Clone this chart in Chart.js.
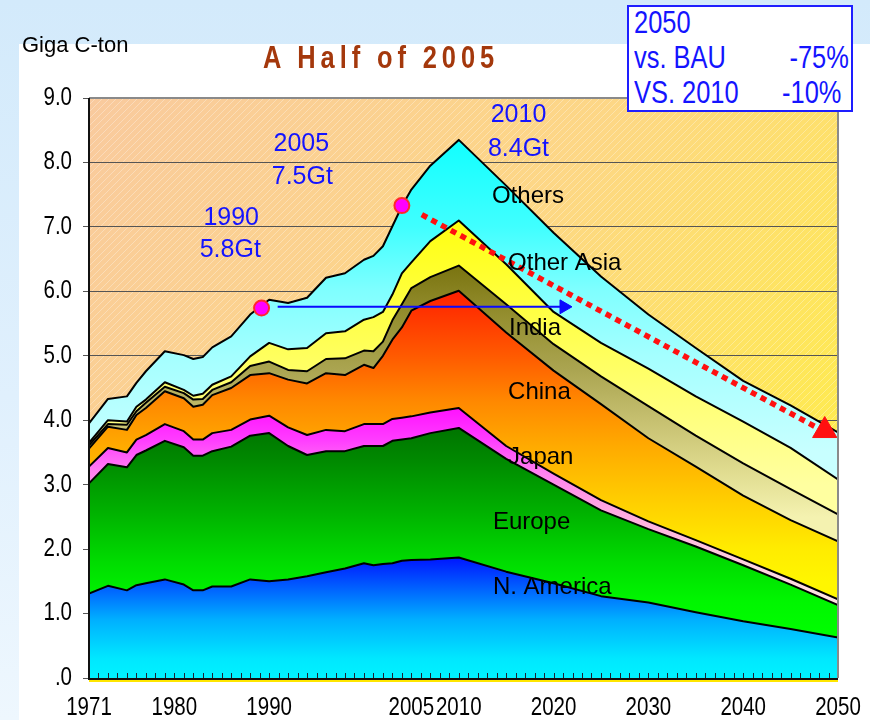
<!DOCTYPE html>
<html>
<head>
<meta charset="utf-8">
<script src="https://cdn.jsdelivr.net/npm/chart.js@4/dist/chart.umd.min.js"></script>
<style>
  body { margin:0; width:870px; height:720px; overflow:hidden; position:relative;
         background: linear-gradient(180deg, #d3eafb 0%, #e0f0fd 55%, #eef7fe 100%); }
  #panel { position:absolute; left:19px; top:44px; right:0; bottom:0; background:#fff; }
  #chart { position:absolute; left:0; top:0; }
  .sans { font-family: 'Liberation Sans', Arial, sans-serif; }
  .squeeze { display:inline-block; transform:scaleX(0.82); transform-origin:left center; white-space:nowrap; }
  #unit { position:absolute; left:22px; top:32px; font-size:22px; color:#000; }
  #title { position:absolute; left:263px; top:40px; font-size:31px; font-weight:bold; letter-spacing:6px; color:#a4380c; }
  #box { position:absolute; left:627px; top:5px; width:222px; height:103px; border:2px solid #1e1eff;
         background:#fff; color:#1414ff; font-size:31px; line-height:35px; overflow:hidden; }
  #box .rows { margin-top:-2px; margin-left:5px; width:262px; transform:scaleX(0.82); transform-origin:left top; }
  #box .row { display:flex; justify-content:space-between; }
</style>
</head>
<body>
<div id="panel"></div>
<canvas id="chart" width="870" height="720"></canvas>
<div id="unit" class="sans">Giga C-ton</div>
<div id="title" class="sans"><span class="squeeze">A Half of 2005</span></div>
<div id="box" class="sans">
  <div class="rows">
    <div class="row"><span>2050</span></div>
    <div class="row"><span>vs. BAU</span><span>-75%</span></div>
    <div class="row"><span>VS. 2010</span><span style="padding-right:9px">-10%</span></div>
  </div>
</div>
<script>
// years (historic wiggles, then projection)
const years = [1971,1973,1975,1976,1977,1979,1981,1982,1983,1984,1986,1988,1990,1992,1994,1996,1998,2000,2001,2002,2003,2004,2005,2007,2010,2015,2020,2025,2030,2035,2040,2045,2050];

// emissions by region, Giga C-ton (not cumulative)
const nAmerica  = [1.31,1.43,1.36,1.44,1.47,1.53,1.45,1.36,1.36,1.42,1.42,1.53,1.50,1.53,1.58,1.64,1.70,1.78,1.75,1.77,1.78,1.82,1.83,1.84,1.87,1.65,1.47,1.27,1.17,1.02,0.88,0.76,0.63];
const europe    = [1.71,1.89,1.91,2.02,2.06,2.15,2.13,2.09,2.09,2.10,2.17,2.23,2.30,2.07,1.88,1.88,1.82,1.82,1.85,1.83,1.90,1.88,1.89,1.96,2.01,1.75,1.53,1.33,1.14,1.02,0.87,0.69,0.50];
const japan     = [0.26,0.25,0.23,0.24,0.24,0.26,0.25,0.25,0.25,0.28,0.26,0.25,0.27,0.29,0.31,0.33,0.31,0.34,0.34,0.34,0.34,0.34,0.34,0.32,0.31,0.20,0.17,0.16,0.12,0.10,0.09,0.09,0.09];
const china     = [0.28,0.33,0.35,0.38,0.42,0.51,0.51,0.51,0.54,0.59,0.65,0.69,0.66,0.74,0.80,0.88,0.87,0.92,0.87,1.06,1.23,1.40,1.64,1.73,1.82,1.76,1.60,1.49,1.29,1.14,0.99,0.91,0.90];
const india     = [0.05,0.04,0.08,0.06,0.08,0.07,0.08,0.11,0.09,0.08,0.09,0.14,0.18,0.15,0.19,0.22,0.26,0.22,0.26,0.22,0.30,0.36,0.35,0.37,0.39,0.44,0.41,0.43,0.50,0.48,0.50,0.48,0.42];
const otherAsia = [0.04,0.06,0.05,0.07,0.05,0.07,0.05,0.06,0.08,0.08,0.09,0.15,0.29,0.32,0.36,0.40,0.42,0.48,0.53,0.46,0.40,0.48,0.40,0.56,0.70,0.62,0.50,0.52,0.58,0.61,0.65,0.64,0.54];
const others    = [0.30,0.33,0.39,0.37,0.44,0.48,0.54,0.57,0.57,0.58,0.62,0.65,0.67,0.72,0.78,0.86,0.90,0.93,0.95,1.02,1.06,1.04,1.13,1.17,1.25,1.22,1.23,1.03,0.84,0.75,0.63,0.66,0.73];

const xTickYears = [1971,1980,1990,2005,2010,2020,2030,2040,2050];

// markers: 1990 and 2005 totals, reduction path, "same as 1990" arrow
const dotYears  = [1989.2, 2004.0];
const dotValues = [5.74, 7.33];
const pathYears  = [2006.1, 2047.6];
const pathValues = [7.19, 3.90];
const arrowYears  = [1990.9, 2020.7];
const arrowValues = [5.76, 5.76];

// vertical gradient in value space
function vGrad(stops) {
  return (c) => {
    const chart = c.chart;
    if (!chart.chartArea) return stops[0][1];
    const y = chart.scales.y;
    const p0 = y.getPixelForValue(stops[0][0]);
    const p1 = y.getPixelForValue(stops[stops.length - 1][0]);
    const g = chart.ctx.createLinearGradient(0, p0, 0, p1);
    stops.forEach(([v, col]) => g.addColorStop((y.getPixelForValue(v) - p0) / (p1 - p0), col));
    return g;
  };
}

const series = [
  { label: 'N. America', data: nAmerica, bg: vGrad([[1.9,'#0010ff'],[1.5,'#0050ff'],[0.9,'#00b0ff'],[0.3,'#00e8ff'],[0,'#00f2ff']]) },
  { label: 'Europe', data: europe, bg: vGrad([[4.0,'#007000'],[3.4,'#008800'],[2.6,'#00b000'],[1.8,'#00dc00'],[1.2,'#00f600'],[0.6,'#00ff00']]) },
  { label: 'Japan', data: japan, bg: vGrad([[4.2,'#ff10ff'],[3.7,'#ff3cff'],[3.2,'#ff80f0'],[2.6,'#ffa8e0'],[1.8,'#ffd0e0'],[1.2,'#ffe4e4']]) },
  { label: 'China', data: china, bg: vGrad([[6.0,'#ff2000'],[5.0,'#ff5a00'],[4.3,'#ff8800'],[3.6,'#ffaa00'],[2.8,'#ffcc00'],[2.0,'#ffec00'],[1.5,'#fff600']]) },
  { label: 'India', data: india, bg: vGrad([[6.4,'#7a7410'],[5.6,'#958f30'],[4.8,'#aaa450'],[4.0,'#c6c070'],[3.2,'#e0dc90'],[2.5,'#f4f2b0']]) },
  { label: 'Other Asia', data: otherAsia, bg: vGrad([[7.1,'#ffff10'],[5.8,'#ffff40'],[4.5,'#ffff70'],[3.0,'#ffffa0']]) },
  { label: 'Others', data: others, bg: vGrad([[8.4,'#10ffff'],[7.0,'#40ffff'],[6.0,'#80ffff'],[5.0,'#a4ffff'],[3.5,'#c8ffff']]) }
];

const areaLabels = [
  { text: 'Others', x: 2013.5, y: 7.47 },
  { text: 'Other Asia', x: 2015.2, y: 6.44 },
  { text: 'India', x: 2015.3, y: 5.43 },
  { text: 'China', x: 2015.2, y: 4.43 },
  { text: 'Japan', x: 2015.2, y: 3.42 },
  { text: 'Europe', x: 2013.6, y: 2.41 },
  { text: 'N. America', x: 2013.6, y: 1.41 }
];
const noteLabels = [
  { text: '1990', x: 1986.0, y: 7.14 },
  { text: '5.8Gt', x: 1985.9, y: 6.64 },
  { text: '2005', x: 1993.4, y: 8.28 },
  { text: '7.5Gt', x: 1993.5, y: 7.78 },
  { text: '2010', x: 2016.3, y: 8.73 },
  { text: '8.4Gt', x: 2016.3, y: 8.21 }
];

const SANS = "'Liberation Sans', Arial, sans-serif";

// narrow-looking text: squeeze horizontally around the anchor
function narrowText(ctx, text, x, y, align) {
  ctx.save();
  ctx.translate(x, y);
  ctx.scale(0.82, 1);
  ctx.textAlign = align;
  ctx.fillText(text, 0, 0);
  ctx.restore();
}

const decor = {
  id: 'decor',
  beforeDraw(chart) {
    const { ctx, chartArea: a } = chart;
    ctx.save();
    const g = ctx.createLinearGradient(a.left, a.top, a.right, a.bottom);
    g.addColorStop(0, '#f9ca9e');
    g.addColorStop(0.45, '#fdd785');
    g.addColorStop(1, '#fff23a');
    ctx.fillStyle = g;
    ctx.fillRect(a.left, a.top, a.width, a.height);
    ctx.beginPath();
    ctx.rect(a.left, a.top, a.width, a.height);
    ctx.clip();
    ctx.strokeStyle = 'rgba(255,255,255,0.3)';
    ctx.lineWidth = 1;
    for (let s = -a.height; s < a.width; s += 7) {
      ctx.beginPath();
      ctx.moveTo(a.left + s, a.bottom);
      ctx.lineTo(a.left + s + a.height, a.top);
      ctx.stroke();
    }
    ctx.restore();
  },
  afterDatasetsDraw(chart) {
    const { ctx, chartArea: a, scales } = chart;
    const xs = scales.x, ys = scales.y;
    ctx.save();
    // small inward year ticks
    ctx.strokeStyle = '#223';
    ctx.lineWidth = 1;
    for (let yr = 1971; yr <= 2050; yr++) {
      const px = Math.round(xs.getPixelForValue(yr)) + 0.5;
      ctx.beginPath();
      ctx.moveTo(px, a.bottom);
      ctx.lineTo(px, a.bottom - 5);
      ctx.stroke();
    }
    // frame
    ctx.lineWidth = 2;
    ctx.strokeStyle = '#8a8a8a';
    ctx.beginPath();
    ctx.moveTo(a.left, a.top); ctx.lineTo(a.right, a.top); ctx.lineTo(a.right, a.bottom);
    ctx.stroke();
    ctx.strokeStyle = '#111';
    ctx.beginPath();
    ctx.moveTo(a.left, a.top); ctx.lineTo(a.left, a.bottom + 1); ctx.lineTo(a.right, a.bottom + 1);
    ctx.stroke();
    ctx.strokeStyle = '#ffe600';
    ctx.beginPath();
    ctx.moveTo(a.left, a.bottom + 3); ctx.lineTo(a.right, a.bottom + 3);
    ctx.stroke();

    // axis tick labels from the scales' own ticks
    ctx.fillStyle = '#000';
    ctx.textBaseline = 'middle';
    ctx.font = '25px ' + SANS;
    xs.ticks.forEach(t => narrowText(ctx, String(t.value), xs.getPixelForValue(t.value), a.bottom + 30, 'center'));
    ys.ticks.forEach(t => narrowText(ctx, t.value === 0 ? '.0' : t.value.toFixed(1), a.left - 17, ys.getPixelForValue(t.value), 'right'));

    // texts
    ctx.textAlign = 'left';
    ctx.font = '24px ' + SANS;
    areaLabels.forEach(l => ctx.fillText(l.text, xs.getPixelForValue(l.x), ys.getPixelForValue(l.y)));
    ctx.fillStyle = '#1414ff';
    ctx.textAlign = 'center';
    ctx.font = '25px ' + SANS;
    noteLabels.forEach(l => ctx.fillText(l.text, xs.getPixelForValue(l.x), ys.getPixelForValue(l.y)));
    ctx.restore();
  }
};

const datasets = series.map((s, i) => ({
  label: s.label,
  data: years.map((yr, k) => ({ x: yr, y: s.data[k] })),
  backgroundColor: s.bg,
  borderColor: '#000',
  borderWidth: 2,
  borderJoinStyle: 'round',
  pointRadius: 0,
  tension: 0,
  fill: i === 0 ? 'origin' : '-1'
}));

datasets.push({
  label: 'path',
  data: pathYears.map((yr, k) => ({ x: yr, y: pathValues[k] })),
  yAxisID: 'ya', order: -1, fill: false,
  borderColor: '#ff1010', borderWidth: 5.5, borderDash: [6, 5], borderCapStyle: 'butt',
  pointRadius: 0
});
datasets.push({
  label: 'pathHead',
  data: [{ x: 2048.6, y: 3.84 }],
  yAxisID: 'ya', order: -1, showLine: false,
  pointStyle: 'triangle', pointRadius: 14, rotation: 0,
  backgroundColor: '#ff1010', borderColor: '#ff1010', borderWidth: 1
});
datasets.push({
  label: 'arrow',
  data: arrowYears.map((yr, k) => ({ x: yr, y: arrowValues[k] })),
  yAxisID: 'ya', order: -1, fill: false,
  borderColor: '#0a0aff', borderWidth: 2, pointRadius: 0
});
datasets.push({
  label: 'arrowHead',
  data: [{ x: 2021.1, y: 5.76 }],
  yAxisID: 'ya', order: -1, showLine: false,
  pointStyle: 'triangle', pointRadius: 8, rotation: 90,
  backgroundColor: '#0a0aff', borderColor: '#0a0aff', borderWidth: 1
});
datasets.push({
  label: 'dots',
  data: dotYears.map((yr, k) => ({ x: yr, y: dotValues[k] })),
  yAxisID: 'ya', order: -2, showLine: false,
  pointStyle: 'circle', pointRadius: 7.5,
  backgroundColor: '#ff00ff', borderColor: '#ff2a2a', borderWidth: 2
});

new Chart(document.getElementById('chart').getContext('2d'), {
  type: 'line',
  data: { datasets },
  options: {
    responsive: false,
    animation: false,
    layout: { padding: { top: 98, right: 32, left: 0, bottom: 0 } },
    plugins: { legend: { display: false }, tooltip: { enabled: false }, title: { display: false } },
    scales: {
      x: {
        type: 'linear', min: 1971, max: 2050,
        afterFit: s => { s.height = 42; s.paddingLeft = 0; s.paddingRight = 0; },
        afterBuildTicks: s => { s.ticks = xTickYears.map(v => ({ value: v })); },
        grid: { display: false, drawTicks: false },
        border: { display: false },
        ticks: { display: false }
      },
      y: {
        stacked: true, min: 0, max: 9,
        afterFit: s => { s.width = 89; },
        grid: { color: '#555', lineWidth: 1, tickLength: 6 },
        border: { display: false },
        ticks: { stepSize: 1, display: false }
      },
      ya: { display: false, min: 0, max: 9, stacked: false, grid: { display: false } }
    }
  },
  plugins: [decor]
});
</script>
</body>
</html>
